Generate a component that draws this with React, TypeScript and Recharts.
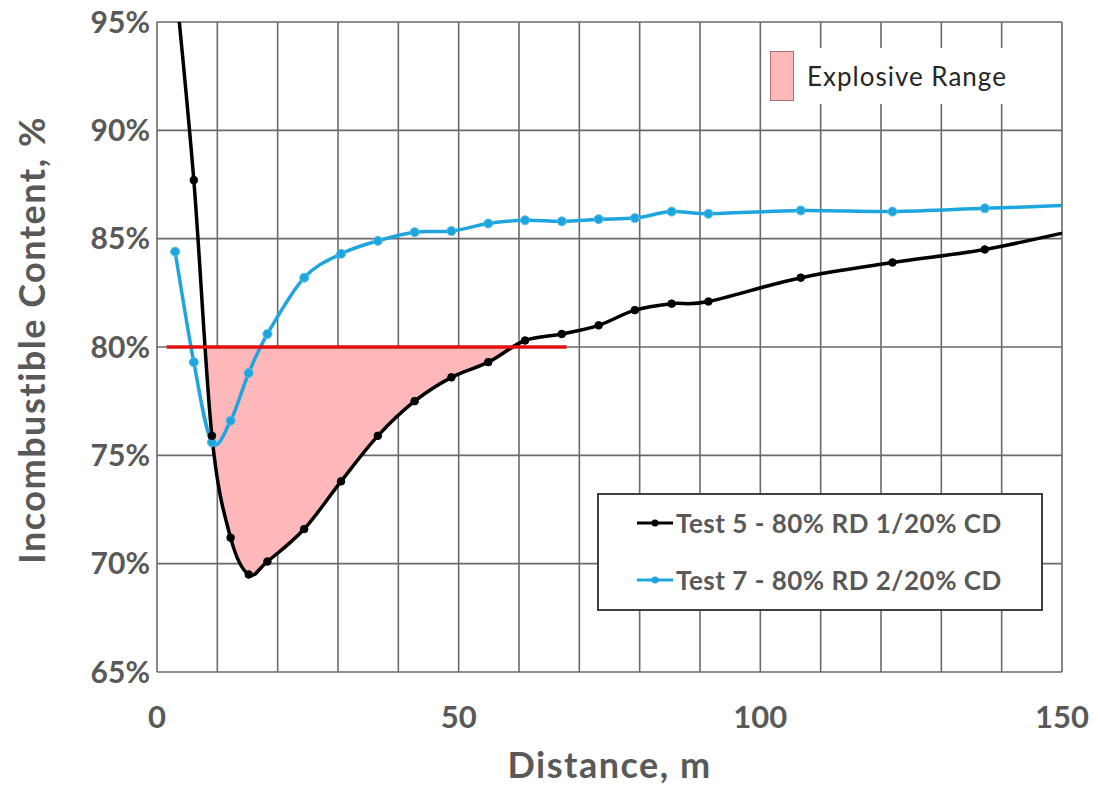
import { Area, CartesianGrid, ComposedChart, Label, Legend, Line, XAxis, YAxis } from "recharts";

// distance along the entry, m
const distance = [3.0, 6.1, 9.1, 12.2, 15.2, 18.3, 24.4, 30.5, 36.6, 42.7, 48.8, 54.9, 61.0, 67.1, 73.2, 79.2, 85.3, 91.4, 106.7, 121.9, 137.2, 152.4];
// incombustible content, %
const test5 = [97.0, 87.7, 75.9, 71.2, 69.5, 70.1, 71.6, 73.8, 75.9, 77.5, 78.6, 79.3, 80.3, 80.6, 81.0, 81.7, 82.0, 82.1, 83.2, 83.9, 84.5, 85.4];
const test7 = [84.4, 79.3, 75.6, 76.6, 78.8, 80.6, 83.2, 84.3, 84.9, 85.3, 85.35, 85.7, 85.85, 85.8, 85.9, 85.95, 86.25, 86.15, 86.3, 86.25, 86.4, 86.55];

// 80% limit line and where test 5 crosses it
const limitLine = [{ d: 1.6, v: 80 }, { d: 67.9, v: 80 }];
const rangeStart = 8.0;
const rangeEnd = 59.8;
const limit = 80;

const xTicks = [0, 10, 20, 30, 40, 50, 60, 70, 80, 90, 100, 110, 120, 130, 140, 150];
const yTicks = [65, 70, 75, 80, 85, 90, 95];

const test5Data = distance.map((d, i) => ({ d, v: test5[i] }));
const test7Data = distance.map((d, i) => ({ d, v: test7[i] }));
const fillData = [
  { d: rangeStart, band: [limit, limit] },
  ...distance
    .map((d, i) => ({ d, band: [test5[i], limit] }))
    .filter((p) => p.d > rangeStart && p.d < rangeEnd),
  { d: rangeEnd, band: [limit, limit] },
];

const FONT = "Lato, 'Open Sans', sans-serif";
const GREY = "#595959";
const BLUE = "#1FA5DE";

// Excel-like smoothed line (Catmull-Rom through the points)
const smooth = (ctx: any) => {
  let pts: number[][] = [];
  let line = NaN;
  return {
    areaStart() {
      line = 0;
    },
    areaEnd() {
      line = NaN;
    },
    lineStart() {
      pts = [];
    },
    lineEnd() {
      const n = pts.length;
      if (n > 0) {
        if (line === 1) ctx.lineTo(pts[0][0], pts[0][1]);
        else ctx.moveTo(pts[0][0], pts[0][1]);
        for (let i = 0; i < n - 1; i++) {
          const p0 = pts[Math.max(i - 1, 0)];
          const p1 = pts[i];
          const p2 = pts[i + 1];
          const p3 = pts[Math.min(i + 2, n - 1)];
          ctx.bezierCurveTo(
            p1[0] + (p2[0] - p0[0]) / 6,
            p1[1] + (p2[1] - p0[1]) / 6,
            p2[0] - (p3[0] - p1[0]) / 6,
            p2[1] - (p3[1] - p1[1]) / 6,
            p2[0],
            p2[1]
          );
        }
      }
      if (line === 1) ctx.closePath();
      line = 1 - line;
    },
    point(x: number, y: number) {
      pts.push([+x, +y]);
    },
  };
};

const Sample = ({ color }: { color: string }) => (
  <svg width={38} height={14} style={{ display: "block" }}>
    <line x1={1} y1={7} x2={37} y2={7} stroke={color} strokeWidth={3} />
    <circle cx={19} cy={7} r={3.5} fill={color} />
  </svg>
);

const renderLegend = () => (
  <div style={{ position: "relative", height: 0, fontFamily: FONT }}>
    <div
      style={{
        position: "absolute",
        left: 597,
        top: 493,
        width: 446,
        height: 118,
        border: "2px solid #404040",
        background: "#fff",
        boxSizing: "border-box",
      }}
    >
      {[
        { label: "Test 5 - 80% RD 1/20% CD", color: "#000", top: 12 },
        { label: "Test 7 - 80% RD 2/20% CD", color: BLUE, top: 69 },
      ].map((r) => (
        <div
          key={r.label}
          style={{ position: "absolute", left: 37, top: r.top, display: "flex", alignItems: "center", height: 32 }}
        >
          <Sample color={r.color} />
          <span
            style={{ marginLeft: 2, fontSize: 26, fontWeight: 700, color: GREY, whiteSpace: "nowrap", letterSpacing: 0.5 }}
          >
            {r.label}
          </span>
        </div>
      ))}
    </div>
    <div
      style={{
        position: "absolute",
        left: 763,
        top: 48,
        width: 258,
        height: 56,
        background: "#fff",
        display: "flex",
        alignItems: "center",
      }}
    >
      <div style={{ marginLeft: 7, width: 24, height: 50, background: "#FFB8BA", border: "1px solid #B07070", boxSizing: "border-box" }} />
      <span style={{ marginLeft: 13, fontSize: 26, color: "#262626", whiteSpace: "nowrap", letterSpacing: 1 }}>
        Explosive Range
      </span>
    </div>
  </div>
);

const App = () => {
  return (
    <div style={{ position: "absolute", left: 0, top: 0, width: 1100, height: 791, background: "#fff" }}>
      <ComposedChart width={1100} height={791} margin={{ top: 22, right: 38, bottom: 0, left: 0 }}>
        <CartesianGrid stroke="#6a6a6a" strokeWidth={1.6} />
        <XAxis
          type="number"
          dataKey="d"
          domain={[0, 150]}
          ticks={xTicks}
          allowDataOverflow
          height={119}
          axisLine={false}
          tickLine={false}
          tickSize={0}
          tickMargin={34}
          tickFormatter={(v) => (v % 50 === 0 ? String(v) : "")}
          tick={{ fill: GREY, fontSize: 31, fontWeight: 700, fontFamily: FONT }}
        >
          <Label
            value="Distance, m"
            position="insideBottom"
            offset={13}
            style={{ fill: GREY, fontSize: 36, fontWeight: 700, fontFamily: FONT, letterSpacing: 1.5 }}
          />
        </XAxis>
        <YAxis
          type="number"
          domain={[65, 95]}
          ticks={yTicks}
          allowDataOverflow
          width={157}
          axisLine={false}
          tickLine={false}
          tickSize={0}
          tickMargin={7}
          tickFormatter={(v) => `${v}%`}
          tick={{ fill: GREY, fontSize: 30, fontWeight: 700, fontFamily: FONT }}
        >
          <Label
            content={(props: any) => {
              const vb = props.viewBox || { x: 0, y: 0, height: 0 };
              const cx = vb.x + 32;
              const cy = vb.y + vb.height / 2 - 7;
              return (
                <text
                  x={cx}
                  y={cy}
                  dy="0.36em"
                  textAnchor="middle"
                  transform={`rotate(-90 ${cx} ${cy})`}
                  style={{ fill: GREY, fontSize: 36, fontWeight: 700, fontFamily: FONT, letterSpacing: 1.5 }}
                >
                  Incombustible Content, %
                </text>
              );
            }}
          />
        </YAxis>
        <Legend content={renderLegend} wrapperStyle={{ left: 0, top: 0, width: 1100, height: 0 }} />
        <Area
          data={fillData}
          dataKey="band"
          type={smooth as any}
          fill="#FFB8BA"
          fillOpacity={1}
          stroke="none"
          isAnimationActive={false}
          legendType="none"
        />
        <Line
          data={test7Data}
          dataKey="v"
          name="Test 7 - 80% RD 2/20% CD"
          type={smooth as any}
          stroke={BLUE}
          strokeWidth={3.5}
          dot={{ r: 4.5, fill: BLUE, stroke: "#4FC0EC", strokeWidth: 1 }}
          activeDot={false}
          isAnimationActive={false}
        />
        <Line
          data={test5Data}
          dataKey="v"
          name="Test 5 - 80% RD 1/20% CD"
          type={smooth as any}
          stroke="#000"
          strokeWidth={3.5}
          dot={{ r: 3.8, fill: "#000", stroke: "#000", strokeWidth: 1 }}
          activeDot={false}
          isAnimationActive={false}
        />
        <Line
          data={limitLine}
          dataKey="v"
          type="linear"
          stroke="#E01010"
          strokeWidth={3.5}
          dot={false}
          activeDot={false}
          legendType="none"
          isAnimationActive={false}
        />
      </ComposedChart>
    </div>
  );
};

export default App;
